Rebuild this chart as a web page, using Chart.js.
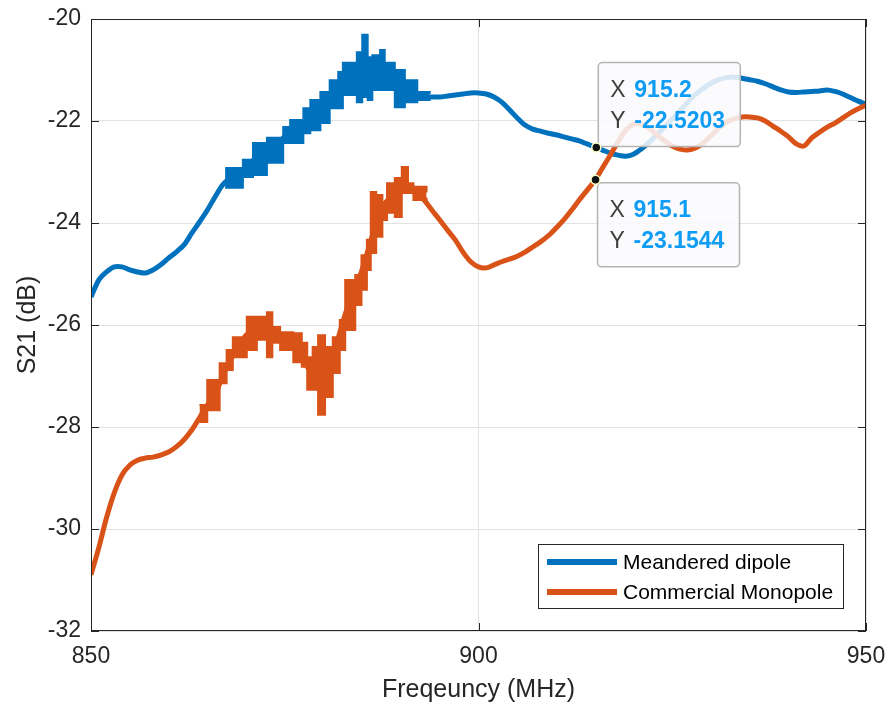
<!DOCTYPE html>
<html>
<head>
<meta charset="utf-8">
<title>S21 vs frequency</title>
<script src="https://cdn.jsdelivr.net/npm/chart.js@4.4.1/dist/chart.umd.min.js"></script>
<style>
  html, body { margin: 0; padding: 0; background: #fff; }
  canvas { display: block; }
</style>
</head>
<body>
<canvas id="s21Chart" width="891" height="708"></canvas>
<script>
// Measured S21 (dB), sampled every 1 MHz
var freq = [850, 851, 852, 853, 854, 855, 856, 857, 858, 859,
            860, 861, 862, 863, 864, 865, 866, 867, 868, 869,
            870, 871, 872, 873, 874, 875, 876, 877, 878, 879,
            880, 881, 882, 883, 884, 885, 886, 887, 888, 889,
            890, 891, 892, 893, 894, 895, 896, 897, 898, 899,
            900, 901, 902, 903, 904, 905, 906, 907, 908, 909,
            910, 911, 912, 913, 914, 915, 916, 917, 918, 919,
            920, 921, 922, 923, 924, 925, 926, 927, 928, 929,
            930, 931, 932, 933, 934, 935, 936, 937, 938, 939,
            940, 941, 942, 943, 944, 945, 946, 947, 948, 949, 950];

var dipole = [-25.45, -25.12, -24.96, -24.86, -24.86, -24.92, -24.96, -24.98, -24.92, -24.82,
              -24.69, -24.57, -24.43, -24.20, -23.98, -23.75, -23.49, -23.25, -23.12, -23.04,
              -22.92, -22.76, -22.66, -22.57, -22.48, -22.30, -22.20, -22.10, -21.95, -21.78,
              -21.68, -21.48, -21.35, -21.18, -21.10, -21.00, -21.05, -21.00, -21.10, -21.25,
              -21.38, -21.45, -21.51, -21.53, -21.53, -21.53, -21.51, -21.49, -21.47, -21.45,
              -21.45, -21.47, -21.53, -21.63, -21.78, -21.94, -22.08, -22.16, -22.20, -22.24,
              -22.27, -22.31, -22.35, -22.39, -22.45, -22.51, -22.57, -22.63, -22.67, -22.69,
              -22.65, -22.55, -22.42, -22.27, -22.12, -21.96, -21.80, -21.63, -21.48, -21.36,
              -21.26, -21.19, -21.15, -21.14, -21.16, -21.19, -21.22, -21.27, -21.33, -21.39,
              -21.43, -21.44, -21.43, -21.42, -21.41, -21.39, -21.42, -21.47, -21.54, -21.61, -21.67];

var monopole = [-30.90, -30.37, -29.78, -29.29, -28.94, -28.75, -28.65, -28.61, -28.59, -28.55,
                -28.49, -28.39, -28.25, -28.06, -27.82, -27.57, -27.37, -27.00, -26.69, -26.43,
                -26.20, -26.10, -26.10, -26.20, -26.25, -26.25, -26.40, -26.55, -26.84, -26.92,
                -26.98, -26.70, -26.20, -25.70, -25.35, -24.90, -24.40, -23.90, -23.60, -23.45,
                -23.30, -23.28, -23.38, -23.55, -23.75, -23.94, -24.14, -24.33, -24.57, -24.76,
                -24.86, -24.88, -24.82, -24.76, -24.71, -24.65, -24.57, -24.47, -24.37, -24.25,
                -24.10, -23.94, -23.75, -23.55, -23.36, -23.17, -22.92, -22.67, -22.41, -22.18,
                -22.06, -22.06, -22.14, -22.27, -22.39, -22.49, -22.55, -22.57, -22.53, -22.43,
                -22.29, -22.14, -22.02, -21.96, -21.92, -21.92, -21.94, -22.00, -22.10, -22.20,
                -22.31, -22.45, -22.49, -22.33, -22.22, -22.12, -22.04, -21.94, -21.84, -21.76, -21.69];

// Noise envelope of the dipole trace, start of each step
var dipoleNoiseF  = [867.3, 869.6, 870.9, 872.7, 874.8, 875.7, 877.4, 878.3, 879.6, 880.8, 881.9,
                     882.5, 884.3, 885.0, 885.7, 886.3, 887.3, 887.9, 889.2, 890.5, 892.1, 893.7];
var dipoleNoiseHi = [-22.92, -22.76, -22.43, -22.33, -22.12, -21.98, -21.75, -21.59, -21.43, -21.20, -21.04,
                     -20.86, -20.65, -20.31, -20.75, -20.71, -20.61, -20.86, -21.00, -21.20, -21.43, -21.47];
var dipoleNoiseLo = [-23.31, -23.10, -23.06, -22.82, -22.43, -22.43, -22.24, -22.18, -22.04, -21.75, -21.75,
                     -21.49, -21.63, -21.53, -21.59, -21.39, -21.39, -21.39, -21.73, -21.63, -21.59, -21.55];

// Noise envelope of the monopole trace
var monoNoiseF  = [864.0, 865.0, 866.6, 867.5, 868.3, 870.1, 871.4, 872.7, 873.4, 874.4, 876.1,
                   877.2, 877.9, 878.6, 879.3, 880.2, 881.2, 882.1, 882.8, 884.1, 884.9, 885.6,
                   886.1, 886.8, 887.6, 888.2, 889.2, 890.1, 890.9, 891.6, 893.3];
var monoNoiseHi = [-27.57, -27.08, -26.75, -26.49, -26.24, -25.84, -25.84, -25.75, -26.04, -26.14, -26.16,
                   -26.35, -26.63, -26.43, -26.20, -26.43, -26.24, -25.90, -25.12, -25.02, -24.63, -24.33,
                   -23.39, -23.45, -23.59, -23.22, -23.12, -22.90, -23.22, -23.29, -23.40];
var monoNoiseLo = [-27.90, -27.67, -27.14, -26.88, -26.63, -26.49, -26.29, -26.63, -26.35, -26.49, -26.73,
                   -26.82, -27.27, -27.27, -27.76, -27.41, -26.94, -26.49, -26.10, -25.61, -25.31, -24.92,
                   -24.59, -24.27, -23.94, -23.80, -23.88, -23.41, -23.41, -23.55, -23.50];

// Data tips
var tipX = [915.2, 915.1];
var tipY = [-22.5203, -23.1544];

var seriesNames = ['Meandered dipole', 'Commercial Monopole'];
var xTicks = [850, 900, 950];
var yTicks = [-32, -30, -28, -26, -24, -22, -20];

var BLUE = '#0072BD';
var ORANGE = '#D95319';
var FONT = "'Liberation Sans', Arial, Helvetica, sans-serif";

function pts(xs, ys) {
    return xs.map(function (v, i) { return {x: v, y: ys[i]}; });
}

function lineSet(label, data, color, order) {
    return {
        label: label,
        data: data,
        borderColor: color,
        backgroundColor: color,
        borderWidth: 5,
        pointRadius: 0,
        tension: 0.3,
        fill: false,
        order: order
    };
}

function bandSet(label, data, color, order, fillTo) {
    return {
        label: label,
        data: data,
        borderColor: color,
        backgroundColor: color,
        borderWidth: 2,
        pointRadius: 0,
        stepped: 'before',
        fill: fillTo,
        order: order
    };
}

// Box with inward tick marks
var axesBox = {
    id: 'axesBox',
    afterDatasetsDraw: function (chart) {
        var ctx = chart.ctx, a = chart.chartArea;
        var xs = chart.scales.x, ys = chart.scales.y;
        ctx.save();
        ctx.strokeStyle = '#262626';
        ctx.lineWidth = 1;
        ctx.strokeRect(a.left + 0.5, a.top + 0.5, a.right - a.left - 1, a.bottom - a.top - 1);
        ctx.beginPath();
        yTicks.forEach(function (t) {
            var py = Math.round(ys.getPixelForValue(t)) + 0.5;
            ctx.moveTo(a.left, py); ctx.lineTo(a.left + 8, py);
            ctx.moveTo(a.right, py); ctx.lineTo(a.right - 8, py);
        });
        xTicks.forEach(function (t) {
            var px = Math.round(xs.getPixelForValue(t)) + 0.5;
            ctx.moveTo(px, a.bottom); ctx.lineTo(px, a.bottom - 8);
            ctx.moveTo(px, a.top); ctx.lineTo(px, a.top + 8);
        });
        ctx.stroke();
        ctx.restore();
    }
};

// Legend box in the lower right corner
var cornerLegend = {
    id: 'cornerLegend',
    afterDraw: function (chart) {
        var ctx = chart.ctx, a = chart.chartArea;
        var w = 305, h = 64;
        var left = a.right - 23 - w, top = a.bottom - 23 - h;
        ctx.save();
        ctx.fillStyle = '#fff';
        ctx.fillRect(left, top, w, h);
        ctx.strokeStyle = '#262626';
        ctx.lineWidth = 1;
        ctx.strokeRect(left + 0.5, top + 0.5, w, h);
        ctx.font = '21px ' + FONT;
        ctx.textBaseline = 'middle';
        [BLUE, ORANGE].forEach(function (c, i) {
            var cy = top + 18 + i * 30;
            ctx.strokeStyle = c;
            ctx.lineWidth = 6;
            ctx.beginPath();
            ctx.moveTo(left + 9, cy); ctx.lineTo(left + 79, cy);
            ctx.stroke();
            ctx.fillStyle = '#000';
            ctx.fillText(seriesNames[i], left + 85, cy + 1);
        });
        ctx.restore();
    }
};

// Data tips: marker plus label box
var dataTips = {
    id: 'dataTips',
    afterDraw: function (chart) {
        var ctx = chart.ctx;
        var xs = chart.scales.x, ys = chart.scales.y;
        ctx.save();
        tipX.forEach(function (xv, i) {
            var mx = xs.getPixelForValue(xv), my = ys.getPixelForValue(tipY[i]);
            var bw = 142, bh = 84;
            var bx = mx + 2, by = (i === 0) ? my - bh - 1 : my + 3;
            ctx.fillStyle = 'rgba(250,250,253,0.86)';
            ctx.strokeStyle = '#b4b4b4';
            ctx.lineWidth = 1.5;
            ctx.beginPath();
            ctx.roundRect(bx, by, bw, bh, 4);
            ctx.fill();
            ctx.stroke();
            ctx.textBaseline = 'middle';
            var rows = [['X', String(xv)], ['Y', tipY[i].toFixed(4)]];
            rows.forEach(function (r, k) {
                var ty = by + 28 + k * 31;
                ctx.font = '23px ' + FONT;
                ctx.fillStyle = '#404040';
                ctx.fillText(r[0], bx + 12, ty);
                ctx.font = 'bold 23px ' + FONT;
                ctx.fillStyle = '#0f9cf5';
                ctx.fillText(r[1], bx + 36, ty);
            });
            ctx.beginPath();
            ctx.arc(mx, my, 4.5, 0, Math.PI * 2);
            ctx.fillStyle = '#111';
            ctx.fill();
            ctx.strokeStyle = '#ffffc8';
            ctx.lineWidth = 1.5;
            ctx.stroke();
        });
        ctx.restore();
    }
};

var ctx = document.getElementById('s21Chart');
var s21Chart = new Chart(ctx, {
    type: 'line',
    data: {
        datasets: [
            lineSet(seriesNames[0], pts(freq, dipole), BLUE, 5),
            bandSet('dipole hi', pts(dipoleNoiseF, dipoleNoiseHi), BLUE, 4, '+1'),
            bandSet('dipole lo', pts(dipoleNoiseF, dipoleNoiseLo), BLUE, 3, false),
            lineSet(seriesNames[1], pts(freq, monopole), ORANGE, 2),
            bandSet('mono hi', pts(monoNoiseF, monoNoiseHi), ORANGE, 1, '+1'),
            bandSet('mono lo', pts(monoNoiseF, monoNoiseLo), ORANGE, 0, false)
        ]
    },
    options: {
        responsive: false,
        animation: false,
        layout: {
            padding: {left: 0, right: 25, top: 19, bottom: 0}
        },
        scales: {
            x: {
                type: 'linear',
                min: 850,
                max: 950,
                afterFit: function (s) {
                    s.height = 77;
                    s.paddingLeft = 0;
                    s.paddingRight = 0;
                },
                afterBuildTicks: function (s) {
                    s.ticks = xTicks.map(function (v) { return {value: v}; });
                },
                grid: {
                    color: '#e2e2e2',
                    drawTicks: false
                },
                border: { display: false },
                ticks: {
                    color: '#262626',
                    padding: 12,
                    font: { family: FONT, size: 23 },
                    maxRotation: 0
                },
                title: {
                    display: true,
                    text: 'Freqeuncy (MHz)',
                    color: '#262626',
                    font: { family: FONT, size: 25 },
                    padding: { top: 0, bottom: 3 }
                }
            },
            y: {
                min: -32,
                max: -20,
                afterFit: function (s) {
                    s.width = 91;
                    s.paddingTop = 0;
                    s.paddingBottom = 0;
                },
                afterBuildTicks: function (s) {
                    s.ticks = yTicks.map(function (v) { return {value: v}; });
                },
                grid: {
                    color: '#e2e2e2',
                    drawTicks: false
                },
                border: { display: false },
                ticks: {
                    color: '#262626',
                    padding: 10,
                    font: { family: FONT, size: 23 }
                },
                title: {
                    display: true,
                    text: 'S21 (dB)',
                    color: '#262626',
                    font: { family: FONT, size: 25 },
                    padding: { top: 13, bottom: 0 }
                }
            }
        },
        plugins: {
            legend: { display: false },
            tooltip: { enabled: false }
        }
    },
    plugins: [axesBox, dataTips, cornerLegend]
});
</script>
</body>
</html>
